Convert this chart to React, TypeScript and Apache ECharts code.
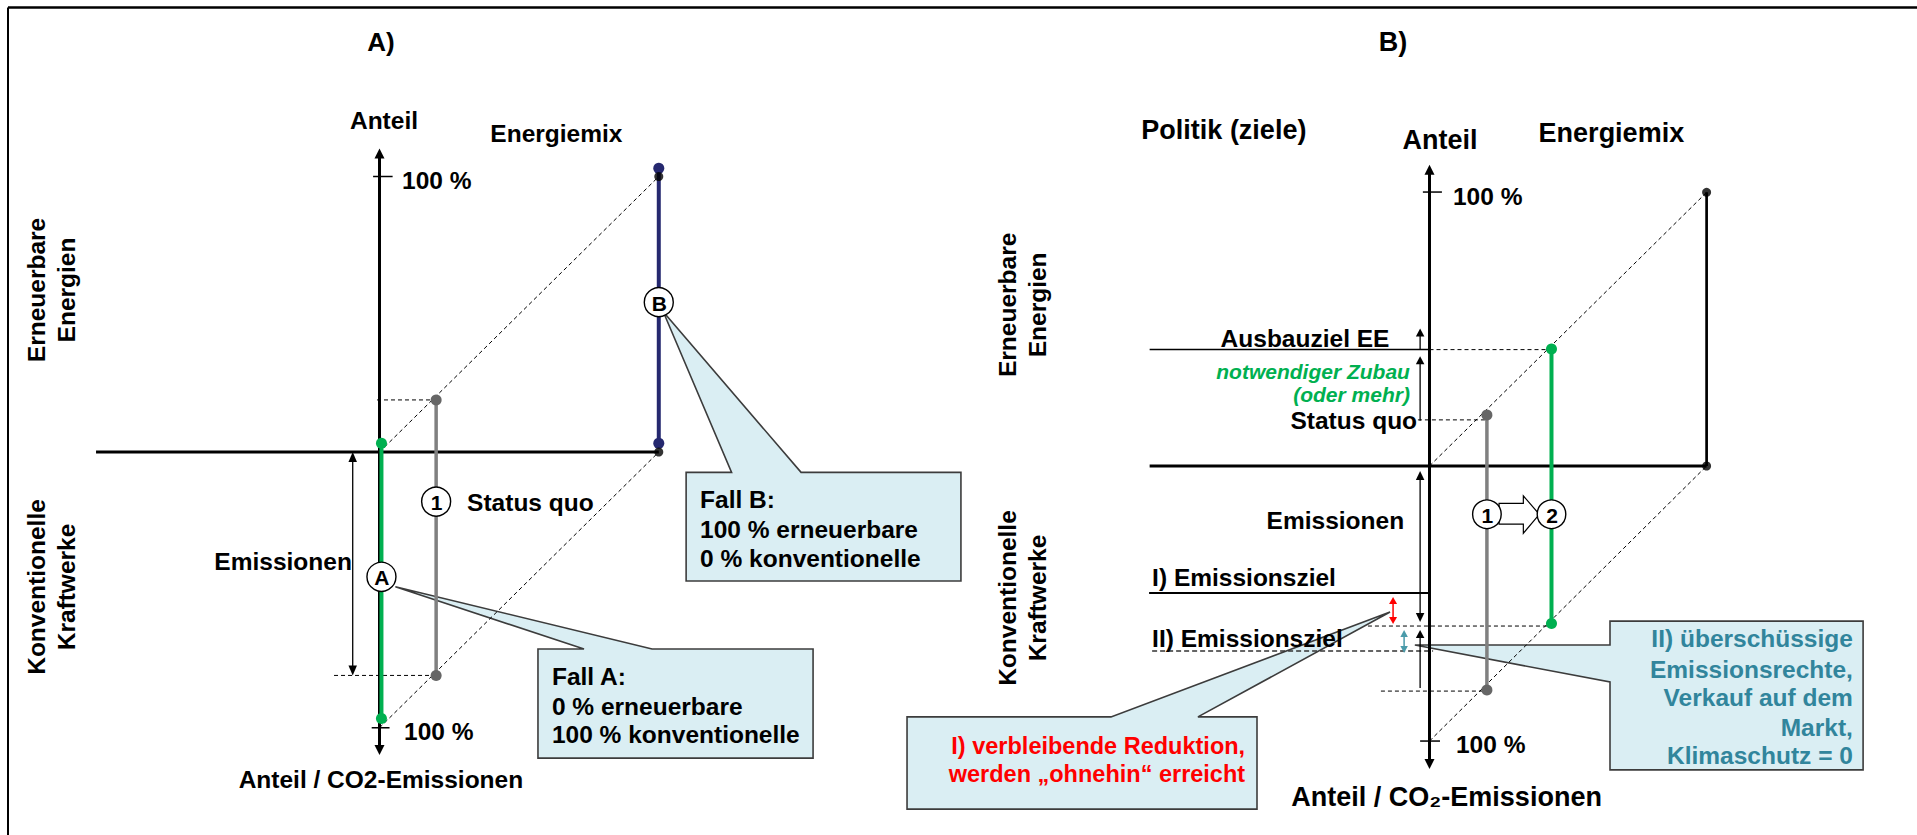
import React, { useEffect, useRef } from "react";
import * as echarts from "echarts";

const FONT = "'Liberation Sans', Arial, Helvetica, sans-serif";

// ============ Panel A) — units: % share, origin at the axis cross ============
const A_AXIS_VERTICAL = [[0, -110, 0, 110.2]];
const A_AXIS_HORIZONTAL = [[-101.6, 0, 100.1, 0]];
const A_TICKS = [[-2.3, 100, 4.7, 100], [-2.8, -100.1, 3.6, -100.1]];
const A_DIAGONALS = [[0, 0, 100.1, 100], [0, -100.1, 100.1, 0]];
const A_GUIDES = [[-0.9, 18.9, 20.3, 18.9], [-16.3, -81.1, 20.3, -81.1]];
const A_EMISSION_ARROW = [[-9.6, 0, -9.6, -81.1]];
const A_CASE_A_BAR = [[0.7, 3.2], [0.7, -96.7]];
const A_STATUS_QUO_BAR = [[20.3, 18.9], [20.3, -81.1]];
const A_CASE_B_BAR = [[100.1, 103], [100.1, 3.2]];
const A_CORNER_DOTS = [[100.1, 100], [100.1, 0]];
const A_MARKERS = [[20.3, -18], [0.7, -45.3], [100.1, 54.4]];
const A_MARKER_LABELS = ["1", "A", "B"];
const A_CALLOUTS = [
  { box: [56.8, -71.5, 155.4, -111.1], tip: [5.7, -48.9], base: [73.3, 97.7], side: "top" },
  { box: [109.9, -7.4, 208.4, -46.8], tip: [101.7, 50.9], base: [126.2, 151.1], side: "top" },
];
const A_TITLE = [[0.5, 149, "A)"]];
const A_HEADINGS = [
  [1.6, 120.3, "Anteil"],
  [63.4, 115.7, "Energiemix"],
  [0.5, -119, "Anteil / CO2-Emissionen"],
];
const A_LEFT_TEXTS = [
  [8.1, 98.7, "100 %"],
  [8.8, -101.6, "100 %"],
  [31.4, -18.4, "Status quo"],
  [61.8, -81.6, "Fall A:"],
  [61.8, -92.2, "0 % erneuerbare"],
  [61.8, -102.7, "100 % konventionelle"],
  [114.9, -17.4, "Fall B:"],
  [114.9, -28.3, "100 % erneuerbare"],
  [114.9, -38.5, "0 % konventionelle"],
];
const A_RIGHT_TEXTS = [[-9.9, -39.6, "Emissionen"]];
const A_SIDE_LABELS = [
  [-117.6, 58.8, "Erneuerbare\nEnergien"],
  [-117.6, -49, "Konventionelle\nKraftwerke"],
];

// ============ Panel B) ============
const B_AXIS_VERTICAL = [[0, -110.4, 0, 109.7]];
const B_AXIS_HORIZONTAL = [[-101.4, 0, 100.4, 0]];
const B_MIX_EDGE = [[100.4, 0, 100.4, 99.7]];
const B_TICKS = [[-2.4, 99.8, 4.5, 99.8], [-3.4, -100.2, 3.8, -100.2]];
const B_DIAGONALS = [[0, 0, 100.4, 99.7], [0, -100.2, 100.4, 0]];
const B_TARGET_EE = [[-101.4, 42.4, 0, 42.4]];
const B_TARGET_EMISSION_I = [[-101.6, -46.3, 0, -46.3]];
const B_TARGET_EMISSION_II = [[-100.5, -67.4, 1.3, -67.4]];
const B_GUIDES = [
  [0, 42.4, 44.2, 42.4],
  [-4.2, 16.8, 20.8, 16.8],
  [-22.3, -58.3, 44.2, -58.3],
  [-17.6, -82, 20.8, -82],
];
const B_UP_ARROWS = [
  [-3.4, 42.4, -3.4, 50.1],
  [-3.4, 16.5, -3.4, 40],
  [-3.4, -80.9, -3.4, -59.7],
];
const B_EMISSION_ARROW = [[-3.4, -1.8, -3.4, -56.8]];
const B_REMAINING_ARROW = [[-13.2, -47.7, -13.2, -57.6]];
const B_SURPLUS_ARROW = [[-9.2, -59.7, -9.2, -68.1]];
const B_STATUS_QUO_BAR = [[20.8, 18.6], [20.8, -81.6]];
const B_TARGET_BAR = [[44.2, 42.6], [44.2, -57.4]];
const B_CORNER_DOTS = [[100.4, 99.7], [100.4, 0]];
const B_MARKERS = [[20.8, -17.6], [44.2, -17.6]];
const B_MARKER_LABELS = ["1", "2"];
const B_SHIFT_ARROW = [
  [25.2, -13.6], [34, -13.6], [34, -10.9], [39.8, -17.6], [34, -24.5], [34, -21.2], [25.2, -21.2],
];
const B_CALLOUT_RED = [
  { box: [-189.3, -91.4, -62.5, -125], tip: [-14.3, -53.2], base: [-115.4, -83.9], side: "top" },
];
const B_CALLOUT_TEAL = [
  { box: [65.4, -56.5, 157.1, -110.7], tip: [-5.3, -65.2], base: [-65.2, -78.7], side: "left" },
];
const B_TITLE = [[-13.2, 154.6, "B)"]];
const B_HEADINGS = [
  [-74.5, 122.4, "Politik (ziele)"],
  [3.8, 118.9, "Anteil"],
  [65.9, 121.3, "Energiemix"],
  [6.2, -120.6, "Anteil / CO₂-Emissionen"],
];
const B_LEFT_TEXTS = [
  [8.5, 98, "100 %"],
  [9.6, -101.6, "100 %"],
  [-100.5, -40.8, "I) Emissionsziel"],
  [-100.5, -62.7, "II) Emissionsziel"],
];
const B_CENTER_TEXTS = [[-45.1, 46.3, "Ausbauziel EE"]];
const B_RIGHT_TEXTS = [
  [-4.5, 16.4, "Status quo"],
  [-9.2, -19.7, "Emissionen"],
];
const B_GREEN_NOTES = [
  [-7.1, 34.6, "notwendiger Zubau"],
  [-7.1, 25.9, "(oder mehr)"],
];
const B_RED_NOTES = [
  [-66.8, -102, "I) verbleibende Reduktion,"],
  [-66.8, -112.2, "werden „ohnehin“ erreicht"],
];
const B_TEAL_NOTES = [
  [153.4, -63, "II) überschüssige"],
  [153.4, -74.3, "Emissionsrechte,"],
  [153.4, -84.5, "Verkauf auf dem"],
  [153.4, -95.1, "Markt,"],
  [153.4, -105.6, "Klimaschutz = 0"],
];
const B_SIDE_LABELS = [
  [-147.6, 58.7, "Erneuerbare\nEnergien"],
  [-147.6, -48.1, "Konventionelle\nKraftwerke"],
];

// ============ colours ============
const GREEN = "#00B050";
const NAVY = "#25286F";
const GRAY = "#808080";
const GRAY_DOT = "#666666";
const RED = "#FF0000";
const TEAL = "#31859C";
const TEAL_ARROW = "#4A9BAA";
const BOX_FILL = "#DAEEF3";
const BOX_STROKE = "#3C3C3C";

// ============ helpers ============
function base(grid: number, z: number) {
  return {
    type: "custom",
    coordinateSystem: "cartesian2d",
    xAxisIndex: grid,
    yAxisIndex: grid,
    clip: false,
    silent: true,
    z,
  };
}

function segSeries(grid: number, data: number[][], st: any) {
  const hl = st.head ? st.head[0] : 10;
  const hw = st.head ? st.head[1] : 9;
  return {
    ...base(grid, st.z ?? 3),
    dimensions: ["x1", "y1", "x2", "y2"],
    encode: { x: [0, 2], y: [1, 3] },
    data,
    renderItem: (params: any, api: any) => {
      const a = api.coord([api.value(0), api.value(1)]);
      const b = api.coord([api.value(2), api.value(3)]);
      const dx = b[0] - a[0];
      const dy = b[1] - a[1];
      const L = Math.hypot(dx, dy) || 1;
      const ux = dx / L;
      const uy = dy / L;
      let s = [a[0], a[1]];
      let e = [b[0], b[1]];
      const kids: any[] = [];
      const head = (tip: number[], dx2: number, dy2: number) => {
        const bx = tip[0] - dx2 * hl;
        const by = tip[1] - dy2 * hl;
        const nx = -dy2;
        const ny = dx2;
        return {
          type: "polygon",
          shape: {
            points: [
              [tip[0], tip[1]],
              [bx + (nx * hw) / 2, by + (ny * hw) / 2],
              [bx - (nx * hw) / 2, by - (ny * hw) / 2],
            ],
          },
          style: { fill: st.color },
        };
      };
      if (st.end) {
        kids.push(head(b, ux, uy));
        e = [b[0] - ux * hl * 0.6, b[1] - uy * hl * 0.6];
      }
      if (st.start) {
        kids.push(head(a, -ux, -uy));
        s = [a[0] + ux * hl * 0.6, a[1] + uy * hl * 0.6];
      }
      kids.unshift({
        type: "line",
        shape: { x1: s[0], y1: s[1], x2: e[0], y2: e[1] },
        style: { stroke: st.color, lineWidth: st.width, lineDash: st.dash || null, fill: null },
      });
      return { type: "group", children: kids };
    },
  };
}

function textSeries(grid: number, rows: any[], st: any) {
  return {
    ...base(grid, st.z ?? 10),
    data: rows.map((r) => [r[0], r[1]]),
    renderItem: (params: any, api: any) => {
      const p = api.coord([api.value(0), api.value(1)]);
      const row = rows[params.dataIndex];
      return {
        type: "text",
        x: p[0],
        y: p[1],
        rotation: st.rotate || 0,
        style: {
          text: row[2],
          fontSize: st.size,
          fontWeight: "bold",
          fontStyle: st.italic ? "italic" : "normal",
          fontFamily: FONT,
          fill: st.color || "#000",
          align: st.align || "left",
          verticalAlign: "middle",
          lineHeight: st.lineHeight,
        },
      };
    },
  };
}

function calloutPoints(c: any) {
  const [x0, y0, x1, y1] = c.box;
  if (c.side === "top") {
    return [[x0, y0], [c.base[0], y0], c.tip, [c.base[1], y0], [x1, y0], [x1, y1], [x0, y1]];
  }
  return [[x0, y0], [x1, y0], [x1, y1], [x0, y1], [x0, c.base[1]], c.tip, [x0, c.base[0]]];
}

function polygonSeries(grid: number, polys: number[][][], st: any) {
  return {
    ...base(grid, st.z ?? 1),
    data: polys.map((p) => p[0]),
    renderItem: (params: any, api: any) => ({
      type: "polygon",
      shape: { points: polys[params.dataIndex].map((pt) => api.coord(pt)) },
      style: { fill: st.fill, stroke: st.stroke, lineWidth: st.width, lineJoin: "miter" },
    }),
  };
}

function markerSeries(grid: number, pts: number[][], labels: string[], st: any) {
  return {
    ...base(grid, 8),
    data: pts,
    renderItem: (params: any, api: any) => {
      const p = api.coord([api.value(0), api.value(1)]);
      return {
        type: "group",
        children: [
          {
            type: "circle",
            shape: { cx: p[0], cy: p[1], r: st.r },
            style: { fill: "#fff", stroke: "#000", lineWidth: 1.4 },
          },
          {
            type: "text",
            x: p[0] + 0.5,
            y: p[1] + 1,
            style: {
              text: labels[params.dataIndex],
              fontSize: st.size,
              fontWeight: "bold",
              fontFamily: FONT,
              fill: "#000",
              align: "center",
              verticalAlign: "middle",
            },
          },
        ],
      };
    },
  };
}

function barSeries(grid: number, data: number[][], color: string, dot: string, width: number) {
  return {
    type: "line",
    xAxisIndex: grid,
    yAxisIndex: grid,
    data,
    symbol: "circle",
    symbolSize: 11,
    showSymbol: true,
    silent: true,
    clip: false,
    z: 5,
    lineStyle: { color, width },
    itemStyle: { color: dot },
  };
}

function dotSeries(grid: number, data: number[][]) {
  return {
    type: "scatter",
    xAxisIndex: grid,
    yAxisIndex: grid,
    data,
    symbol: "circle",
    symbolSize: 9,
    silent: true,
    clip: false,
    z: 6,
    itemStyle: { color: "#000" },
  };
}

const DASH = [4, 3];

const seriesA = [
  polygonSeries(0, A_CALLOUTS.map(calloutPoints), { fill: BOX_FILL, stroke: BOX_STROKE, width: 1.6 }),
  segSeries(0, A_DIAGONALS, { color: "#000", width: 1, dash: DASH, z: 2 }),
  segSeries(0, A_GUIDES, { color: "#000", width: 1, dash: DASH, z: 2 }),
  segSeries(0, A_AXIS_VERTICAL, { color: "#000", width: 3, start: true, end: true, head: [10, 10] }),
  segSeries(0, A_AXIS_HORIZONTAL, { color: "#000", width: 3 }),
  segSeries(0, A_TICKS, { color: "#000", width: 1.5 }),
  segSeries(0, A_EMISSION_ARROW, { color: "#000", width: 1.3, start: true, end: true, head: [10, 8.5] }),
  barSeries(0, A_CASE_A_BAR, GREEN, GREEN, 4),
  barSeries(0, A_STATUS_QUO_BAR, GRAY, GRAY_DOT, 3.5),
  barSeries(0, A_CASE_B_BAR, NAVY, NAVY, 4),
  dotSeries(0, A_CORNER_DOTS),
  markerSeries(0, A_MARKERS, A_MARKER_LABELS, { r: 14.5, size: 21 }),
  textSeries(0, A_TITLE, { size: 26, align: "center" }),
  textSeries(0, A_HEADINGS, { size: 24.5, align: "center" }),
  textSeries(0, A_LEFT_TEXTS, { size: 24.5, align: "left" }),
  textSeries(0, A_RIGHT_TEXTS, { size: 24.5, align: "right" }),
  textSeries(0, A_SIDE_LABELS, { size: 24.5, align: "center", rotate: Math.PI / 2, lineHeight: 30 }),
];

const seriesB = [
  polygonSeries(1, B_CALLOUT_RED.map(calloutPoints), { fill: BOX_FILL, stroke: BOX_STROKE, width: 1.6 }),
  polygonSeries(1, B_CALLOUT_TEAL.map(calloutPoints), { fill: BOX_FILL, stroke: BOX_STROKE, width: 1.6 }),
  segSeries(1, B_DIAGONALS, { color: "#000", width: 1, dash: DASH, z: 2 }),
  segSeries(1, B_GUIDES, { color: "#000", width: 1, dash: DASH, z: 2 }),
  segSeries(1, B_TARGET_EMISSION_II, { color: "#333", width: 1.6, dash: [5, 3], z: 2 }),
  segSeries(1, B_TARGET_EE, { color: "#000", width: 1.5 }),
  segSeries(1, B_TARGET_EMISSION_I, { color: "#000", width: 2 }),
  segSeries(1, B_AXIS_VERTICAL, { color: "#000", width: 3, start: true, end: true, head: [10, 10] }),
  segSeries(1, B_AXIS_HORIZONTAL, { color: "#000", width: 3 }),
  segSeries(1, B_MIX_EDGE, { color: "#000", width: 2.7 }),
  segSeries(1, B_TICKS, { color: "#000", width: 1.5 }),
  segSeries(1, B_UP_ARROWS, { color: "#000", width: 1.3, end: true, head: [8, 8.5] }),
  segSeries(1, B_EMISSION_ARROW, { color: "#000", width: 1.3, start: true, end: true, head: [9, 8.5] }),
  segSeries(1, B_REMAINING_ARROW, { color: RED, width: 1.5, start: true, end: true, head: [7, 8] }),
  segSeries(1, B_SURPLUS_ARROW, { color: TEAL_ARROW, width: 1.5, start: true, end: true, head: [7, 7.5] }),
  barSeries(1, B_STATUS_QUO_BAR, GRAY, GRAY_DOT, 3.5),
  barSeries(1, B_TARGET_BAR, GREEN, GREEN, 4),
  dotSeries(1, B_CORNER_DOTS),
  polygonSeries(1, [B_SHIFT_ARROW], { fill: "#fff", stroke: "#000", width: 1.2, z: 7 }),
  markerSeries(1, B_MARKERS, B_MARKER_LABELS, { r: 14.3, size: 21 }),
  textSeries(1, B_TITLE, { size: 27, align: "center" }),
  textSeries(1, B_HEADINGS, { size: 27, align: "center" }),
  textSeries(1, B_LEFT_TEXTS, { size: 24.5, align: "left" }),
  textSeries(1, B_CENTER_TEXTS, { size: 24.5, align: "center" }),
  textSeries(1, B_RIGHT_TEXTS, { size: 24.5, align: "right" }),
  textSeries(1, B_GREEN_NOTES, { size: 21, align: "right", italic: true, color: GREEN }),
  textSeries(1, B_RED_NOTES, { size: 23.5, align: "right", color: RED }),
  textSeries(1, B_TEAL_NOTES, { size: 24.5, align: "right", color: TEAL }),
  textSeries(1, B_SIDE_LABELS, { size: 24.5, align: "center", rotate: Math.PI / 2, lineHeight: 30 }),
];

const option: any = {
  animation: false,
  backgroundColor: "#ffffff",
  grid: [
    { left: 16.8, top: 11.2, width: 948.6, height: 798.95, containLabel: false, outerBoundsMode: "none" },
    { left: 877.5, top: 26.8, width: 1021.2, height: 796.05, containLabel: false, outerBoundsMode: "none" },
  ],
  xAxis: [
    { type: "value", gridIndex: 0, min: -130, max: 210, show: false },
    { type: "value", gridIndex: 1, min: -200, max: 170, show: false },
  ],
  yAxis: [
    { type: "value", gridIndex: 0, min: -130, max: 160, show: false },
    { type: "value", gridIndex: 1, min: -130, max: 160, show: false },
  ],
  graphic: [
    { type: "line", shape: { x1: 8, y1: 7.5, x2: 1917, y2: 7.5 }, style: { stroke: "#000", lineWidth: 2.5 }, z: 100 },
    { type: "line", shape: { x1: 8, y1: 7.5, x2: 8, y2: 835 }, style: { stroke: "#000", lineWidth: 2 }, z: 100 },
  ],
  series: [...seriesA, ...seriesB],
};

export default function App() {
  const ref = useRef<HTMLDivElement>(null);
  useEffect(() => {
    const chart = echarts.init(ref.current as HTMLDivElement, null, { renderer: "svg" });
    chart.setOption(option);
    return () => chart.dispose();
  }, []);
  return (
    <div
      ref={ref}
      style={{ position: "fixed", left: 0, top: 0, width: 1917, height: 835, background: "#fff" }}
    />
  );
}
